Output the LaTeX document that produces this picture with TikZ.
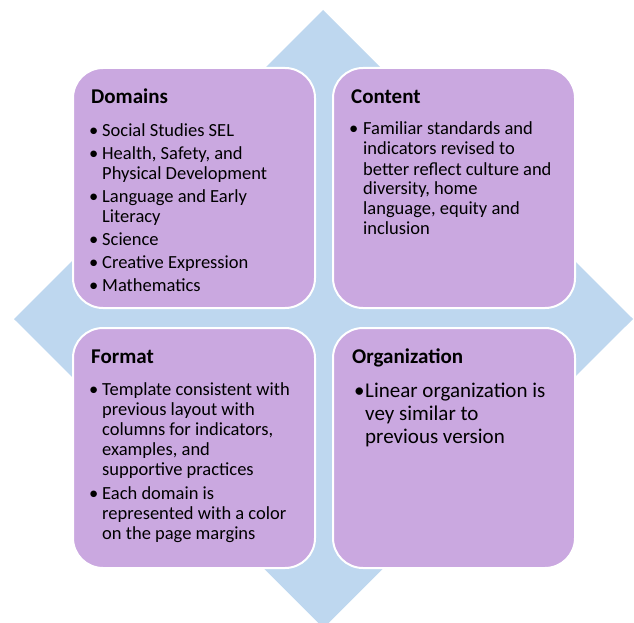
\documentclass[tikz,border=0pt]{standalone}
\usepackage{fontspec}
\setmainfont{Carlito}
\usetikzlibrary{positioning}
\definecolor{boxpurple}{RGB}{202,168,224}
\definecolor{diamondblue}{RGB}{190,215,239}
\newcommand{\nl}{\hfil\break}
\newcommand{\bitem}[2][13pt]{\par\noindent\hangindent=#1\hangafter=1\makebox[#1][l]{\textbullet}#2}
\newcommand{\bullets}[2]{\begin{minipage}[t]{225pt}\raggedright\setlength{\parskip}{#1}#2\end{minipage}}

\begin{document}
\begin{tikzpicture}[x=1pt,y=-1pt]
\tikzset{quadbox/.style={rounded corners=30pt, fill=boxpurple, draw=white, line width=2pt,
    minimum width=242pt, minimum height=240pt, inner sep=0pt},
  boxtitle/.style={anchor=base west, inner sep=0pt, font=\fontsize{21}{24}\selectfont\bfseries},
  boxlist/.style={anchor=base west, inner sep=0pt, font=\fontsize{18.5}{20}\selectfont}}
\useasboundingbox (0,0) rectangle (634,623);
% background diamond
\fill [diamondblue] (323,10) -- (633,319) -- (323.5,628) -- (14,319) -- cycle;
% the four boxes
\node [quadbox] (dom) at (194,188) {};
\node [quadbox] (cont) at (454,188) {};
\node [quadbox] (form) at (194,448) {};
\node [quadbox] (org) at (454,448) {};
% titles
\node [boxtitle] (domtitle) at (91,103) {Domains};
\node [boxtitle] (conttitle) at (351,103) {Content};
\node [boxtitle] (formtitle) at (91,363) {Format};
\node [boxtitle] (orgtitle) at (352,363) {Organization};
% bullet lists
\node [boxlist] (domlist) at (89,136) {\bullets{3pt}{%
  \bitem{Social Studies SEL}
  \bitem{Health, Safety, and\nl Physical Development}
  \bitem{Language and Early\nl Literacy}
  \bitem{Science}
  \bitem{Creative Expression}
  \bitem{Mathematics}}};
\node [boxlist] (contlist) at (349,135) {\bullets{0pt}{%
  \bitem[14pt]{Familiar standards and\nl indicators revised to\nl better reflect culture and\nl diversity, home\nl language, equity and\nl inclusion}}};
\node [boxlist] (formlist) at (89,395) {\bullets{4pt}{%
  \bitem{Template consistent with\nl previous layout with\nl columns for indicators,\nl examples, and\nl supportive practices}
  \bitem{Each domain is\nl represented with a color\nl on the page margins}}};
\node [boxlist, font=\fontsize{21}{23}\selectfont] (orglist) at (354,397) {\bullets{0pt}{%
  \bitem[11pt]{Linear organization is\nl vey similar to\nl previous version}}};
\end{tikzpicture}
\end{document}
